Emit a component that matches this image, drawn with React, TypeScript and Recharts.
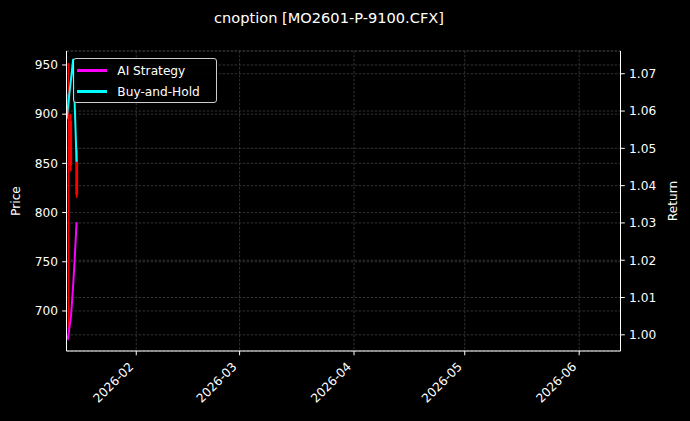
import React from 'react';
import { ComposedChart, Line, Bar, XAxis, YAxis, CartesianGrid, Legend } from 'recharts';

// ---- data ----
const lineTimes = [
  '2026-01-13T03:00:00Z',
  '2026-01-13T12:00:00Z',
  '2026-01-14T08:00:00Z',
  '2026-01-14T22:00:00Z',
  '2026-01-15T08:00:00Z',
  '2026-01-15T20:00:00Z',
];
const aiStrategy = [0.9994, 0.999, 1.0052, 1.0135, 1.0205, 1.0302];
const buyAndHold: (number | null)[] = [1.0578, null, null, 1.074, null, 1.0464];

const candleTimes = ['2026-01-13T16:00:00Z', '2026-01-14T06:00:00Z', '2026-01-15T21:00:00Z'];
const candleOpen = [921, 893, 863];
const candleHigh = [952, 900, 866];
const candleLow = [678, 842, 815];
const candleClose = [912, 848, 818];

const monthTicks = ['2026-02-01', '2026-03-01', '2026-04-01', '2026-05-01', '2026-06-01'];
const priceTicks = [700, 750, 800, 850, 900, 950];
const returnTicks = [1.0, 1.01, 1.02, 1.03, 1.04, 1.05, 1.06, 1.07];

const xDomain = [Date.UTC(2026, 0, 13, 2, 24), Date.UTC(2026, 5, 12, 4, 48)];
const priceDomain = [659.3, 964.2];
const returnDomain = [0.99566, 1.0761];

const TITLE = 'cnoption [MO2601-P-9100.CFX]';

// ---- build table ----
type Row = {
  t: number;
  ai?: number | null;
  bh?: number | null;
  open?: number;
  high?: number;
  low?: number;
  close?: number;
};
const rowMap = new Map<number, Row>();
const getRow = (s: string) => {
  const t = Date.parse(s);
  if (!rowMap.has(t)) rowMap.set(t, { t });
  return rowMap.get(t)!;
};
lineTimes.forEach((s, i) => {
  const r = getRow(s);
  r.ai = aiStrategy[i];
  r.bh = buyAndHold[i];
});
candleTimes.forEach((s, i) => {
  const r = getRow(s);
  r.open = candleOpen[i];
  r.high = candleHigh[i];
  r.low = candleLow[i];
  r.close = candleClose[i];
});
const rows = Array.from(rowMap.values()).sort((a, b) => a.t - b.t);
const monthTickValues = monthTicks.map((s) => Date.parse(s + 'T00:00:00Z'));

const FONT = '"DejaVu Sans", sans-serif';
const FS = 12.2;
const GRID = '#3e3e3e';

const fmtMonth = (v: number) => {
  const d = new Date(v);
  return `${d.getUTCFullYear()}-${String(d.getUTCMonth() + 1).padStart(2, '0')}`;
};

const CandleShape = (props: any) => {
  const { x, y, width, height, payload } = props;
  if (!payload || payload.low == null || !isFinite(y) || !isFinite(height)) return null;
  const top = Math.min(y, y + height);
  const bottom = Math.max(y, y + height);
  const { open, high, low, close } = payload;
  const py = (v: number) => top + ((high - v) / (high - low)) * (bottom - top);
  const cx = x + width / 2;
  const color = close >= open ? '#00c000' : '#ff0000';
  const bTop = py(Math.max(open, close));
  const bBot = py(Math.min(open, close));
  return (
    <g>
      <line x1={cx} x2={cx} y1={top} y2={bottom} stroke={color} strokeWidth={1.6} />
      <rect x={cx - 1.4} y={bTop} width={2.8} height={Math.max(1, bBot - bTop)} fill={color} />
    </g>
  );
};

const XTick = (props: any) => {
  const { x, payload } = props;
  const ax = x - 2;
  const ay = 367.5;
  return (
    <text
      x={ax}
      y={ay}
      textAnchor="end"
      fill="#ffffff"
      fontFamily={FONT}
      fontSize={FS}
      transform={`rotate(-45, ${ax}, ${ay})`}
    >
      {fmtMonth(payload.value)}
    </text>
  );
};

const LegendBox = () => (
  <div
    style={{
      width: 143.4,
      height: 45,
      boxSizing: 'border-box',
      border: '1px solid #cccccc',
      borderRadius: 3,
      background: 'rgba(0,0,0,0.85)',
      position: 'relative',
      fontFamily: FONT,
      fontSize: FS,
      color: '#ffffff',
    }}
  >
    {[
      { label: 'AI Strategy', color: '#ff00ff', y: 11.4 },
      { label: 'Buy-and-Hold', color: '#00ffff', y: 32.7 },
    ].map((e) => (
      <div key={e.label}>
        <div
          style={{
            position: 'absolute',
            left: 2.7,
            top: e.y - 1.5,
            width: 30,
            height: 2.5,
            background: e.color,
          }}
        />
        <div
          style={{
            position: 'absolute',
            left: 43,
            top: e.y - 8,
            lineHeight: '16px',
            whiteSpace: 'nowrap',
          }}
        >
          {e.label}
        </div>
      </div>
    ))}
  </div>
);

export default function App() {
  return (
    <div
      style={{
        position: 'absolute',
        left: 0,
        top: 0,
        width: 690,
        height: 421,
        background: '#000000',
        overflow: 'hidden',
      }}
    >
      <div
        style={{
          position: 'absolute',
          left: 0,
          width: 658,
          top: 9,
          textAlign: 'center',
          fontFamily: FONT,
          fontSize: 14.6,
          color: '#ffffff',
          whiteSpace: 'nowrap',
        }}
      >
        {TITLE}
      </div>
      <ComposedChart
        width={690}
        height={421}
        data={rows}
        margin={{ top: 51, right: 19.5, bottom: 0, left: 16.5 }}
        style={{ position: 'absolute', left: 0, top: 0 }}
      >
        <CartesianGrid
          yAxisId="left"
          stroke={GRID}
          strokeDasharray="2.5 1.5"
          strokeWidth={0.8}
          verticalValues={monthTickValues}
        />
        <CartesianGrid
          yAxisId="right"
          stroke={GRID}
          strokeDasharray="2.5 1.5"
          strokeWidth={0.8}
          vertical={false}
        />
        <XAxis
          dataKey="t"
          type="number"
          scale="linear"
          domain={xDomain}
          allowDataOverflow
          ticks={monthTickValues}
          tick={<XTick />}
          tickSize={4.3}
          height={70}
          stroke="#ffffff"
          axisLine={{ stroke: '#ffffff', strokeWidth: 1 }}
          tickLine={{ stroke: '#ffffff' }}
          interval={0}
        />
        <XAxis
          xAxisId="top"
          dataKey="t"
          type="number"
          domain={xDomain}
          allowDataOverflow
          orientation="top"
          tick={false}
          tickLine={false}
          height={0}
          axisLine={{ stroke: '#ffffff', strokeWidth: 1 }}
        />
        <YAxis
          yAxisId="left"
          type="number"
          domain={priceDomain}
          allowDataOverflow
          ticks={priceTicks}
          interval={0}
          width={50}
          tickSize={4.3}
          tickMargin={4.3}
          axisLine={{ stroke: '#ffffff', strokeWidth: 1 }}
          tickLine={{ stroke: '#ffffff' }}
          tick={{ fill: '#ffffff', fontFamily: FONT, fontSize: FS }}
          label={{
            content: (p: any) => {
              const vb = p.viewBox || {};
              const cx = (vb.x ?? 16.5) - 0.5;
              const cy = (vb.y ?? 51) + (vb.height ?? 300) / 2;
              return (
                <text
                  x={cx}
                  y={cy}
                  textAnchor="middle"
                  dominantBaseline="central"
                  fill="#ffffff"
                  fontFamily={FONT}
                  fontSize={FS}
                  transform={`rotate(-90, ${cx}, ${cy})`}
                >
                  Price
                </text>
              );
            },
          }}
        />
        <YAxis
          yAxisId="right"
          orientation="right"
          type="number"
          domain={returnDomain}
          allowDataOverflow
          ticks={returnTicks}
          interval={0}
          width={50}
          tickSize={4.3}
          tickMargin={4.3}
          tickFormatter={(v: number) => v.toFixed(2)}
          axisLine={{ stroke: '#ffffff', strokeWidth: 1 }}
          tickLine={{ stroke: '#ffffff' }}
          tick={{ fill: '#ffffff', fontFamily: FONT, fontSize: FS }}
          label={{
            content: (p: any) => {
              const vb = p.viewBox || {};
              const cx = (vb.x ?? 620.5) + 52.5;
              const cy = (vb.y ?? 51) + (vb.height ?? 300) / 2;
              return (
                <text
                  x={cx}
                  y={cy}
                  textAnchor="middle"
                  dominantBaseline="central"
                  fill="#ffffff"
                  fontFamily={FONT}
                  fontSize={FS}
                  transform={`rotate(-90, ${cx}, ${cy})`}
                >
                  Return
                </text>
              );
            },
          }}
        />
        <Bar
          yAxisId="left"
          dataKey={(r: Row) => (r.low != null ? [r.low, r.high] : null)}
          barSize={3}
          shape={<CandleShape />}
          isAnimationActive={false}
          legendType="none"
        />
        <Line
          yAxisId="right"
          dataKey="ai"
          name="AI Strategy"
          stroke="#ff00ff"
          strokeWidth={2}
          dot={false}
          connectNulls
          type="linear"
          isAnimationActive={false}
        />
        <Line
          yAxisId="right"
          dataKey="bh"
          name="Buy-and-Hold"
          stroke="#00ffff"
          strokeWidth={2}
          dot={false}
          connectNulls
          type="linear"
          isAnimationActive={false}
        />
        <Legend
          layout="horizontal"
          verticalAlign="middle"
          align="center"
          content={<LegendBox />}
          wrapperStyle={{ left: 73.3, top: 58.3, width: 'auto', height: 'auto' }}
        />
      </ComposedChart>
    </div>
  );
}
